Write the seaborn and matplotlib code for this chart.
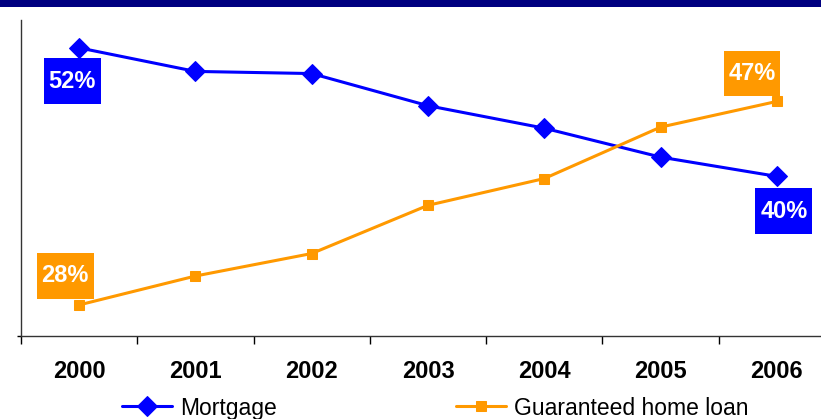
import pandas as pd
import matplotlib.pyplot as plt
import seaborn as sns
from matplotlib.patches import Rectangle
from matplotlib.path import Path

years = ["2000", "2001", "2002", "2003", "2004", "2005", "2006"]
mortgage = [52, 49.8, 49.6, 46.6, 44.5, 41.8, 40]
guaranteed = [28, 30.7, 32.8, 37.3, 39.8, 44.6, 47]

# labels shown in boxes: (index, text, offset in points)
labels_mortgage = [(0, "52%", (-5, -24)), (6, "40%", (5, -25))]
labels_guaranteed = [(0, "28%", (-10, 21)), (6, "47%", (-18, 20))]

blue = "#0000FF"
orange = "#FF9900"

sns.set_style("white")
plt.rcParams['font.family'] = ['Liberation Sans', 'DejaVu Sans']
plt.rcParams['text.color'] = 'black'
plt.rcParams['xtick.color'] = 'black'


# box taller than wide padding, like the original labels
def tall_box(x0, y0, width, height, mutation_size):
    px = 0.2 * mutation_size
    py = 0.48 * mutation_size
    x0, y0 = x0 - px, y0 - py
    x1, y1 = x0 + width + 2 * px, y0 + height + 2 * py
    return Path([(x0, y0), (x1, y0), (x1, y1), (x0, y1), (x0, y0)], closed=True)


df = pd.DataFrame({"year": years, "Mortgage": mortgage, "Guaranteed home loan": guaranteed})
df["x"] = range(len(years))

fig = plt.figure(figsize=(8.21, 4.19), dpi=100)
ax = fig.add_axes([21 / 821, 83 / 419, 814 / 821, 316 / 419])

sns.lineplot(data=df, x="x", y="Mortgage", ax=ax, color=blue, marker="D",
             markersize=10, markeredgecolor=blue, linewidth=2.2, label="Mortgage")
sns.lineplot(data=df, x="x", y="Guaranteed home loan", ax=ax, color=orange, marker="s",
             markersize=7, markeredgecolor=orange, linewidth=2.2, label="Guaranteed home loan")

for i, txt, off in labels_mortgage:
    ax.annotate(txt, (i, mortgage[i]), xytext=off, textcoords="offset points",
                ha="center", va="center", color="white", fontsize=17, fontweight="bold",
                bbox=dict(boxstyle=tall_box, fc=blue, ec="none"))
for i, txt, off in labels_guaranteed:
    ax.annotate(txt, (i, guaranteed[i]), xytext=off, textcoords="offset points",
                ha="center", va="center", color="white", fontsize=17, fontweight="bold",
                bbox=dict(boxstyle=tall_box, fc=orange, ec="none"))

ax.set_xlim(-0.5, 6.5)
ax.set_ylim(25.1, 54.6)
ax.set_xticks([i - 0.5 for i in range(len(years) + 1)])
ax.set_xticklabels([])
ax.set_xticks(range(len(years)), minor=True)
ax.set_xticklabels(years, minor=True, fontsize=17, fontweight="bold", color="black")
ax.tick_params(axis="x", which="major", direction="out", length=6, width=1, color="black", bottom=True)
ax.tick_params(axis="x", which="minor", length=0, pad=17)
ax.set_yticks([25.1])
ax.set_yticklabels([])
ax.tick_params(axis="y", direction="out", length=3, width=1, color="black", left=True)
ax.set_xlabel("")
ax.set_ylabel("")
for s in ["top", "right"]:
    ax.spines[s].set_visible(False)
for s in ["left", "bottom"]:
    ax.spines[s].set_color("#333333")
    ax.spines[s].set_linewidth(1)

ax.get_legend().remove()
handles, lbls = ax.get_legend_handles_labels()
leg = fig.legend(handles, lbls, loc="center", bbox_to_anchor=(435 / 821, 11 / 419), ncol=2,
                 frameon=False, fontsize=16.5, handlelength=2.2, handletextpad=0.35,
                 columnspacing=7.8, borderpad=0, borderaxespad=0)
for t in leg.get_texts():
    t.set_color("black")

fig.patches.append(Rectangle((0, 1 - 7.5 / 419), 1, 7.5 / 419, transform=fig.transFigure,
                             facecolor="#000080", edgecolor="none"))

fig.savefig("out.png", dpi=100)
